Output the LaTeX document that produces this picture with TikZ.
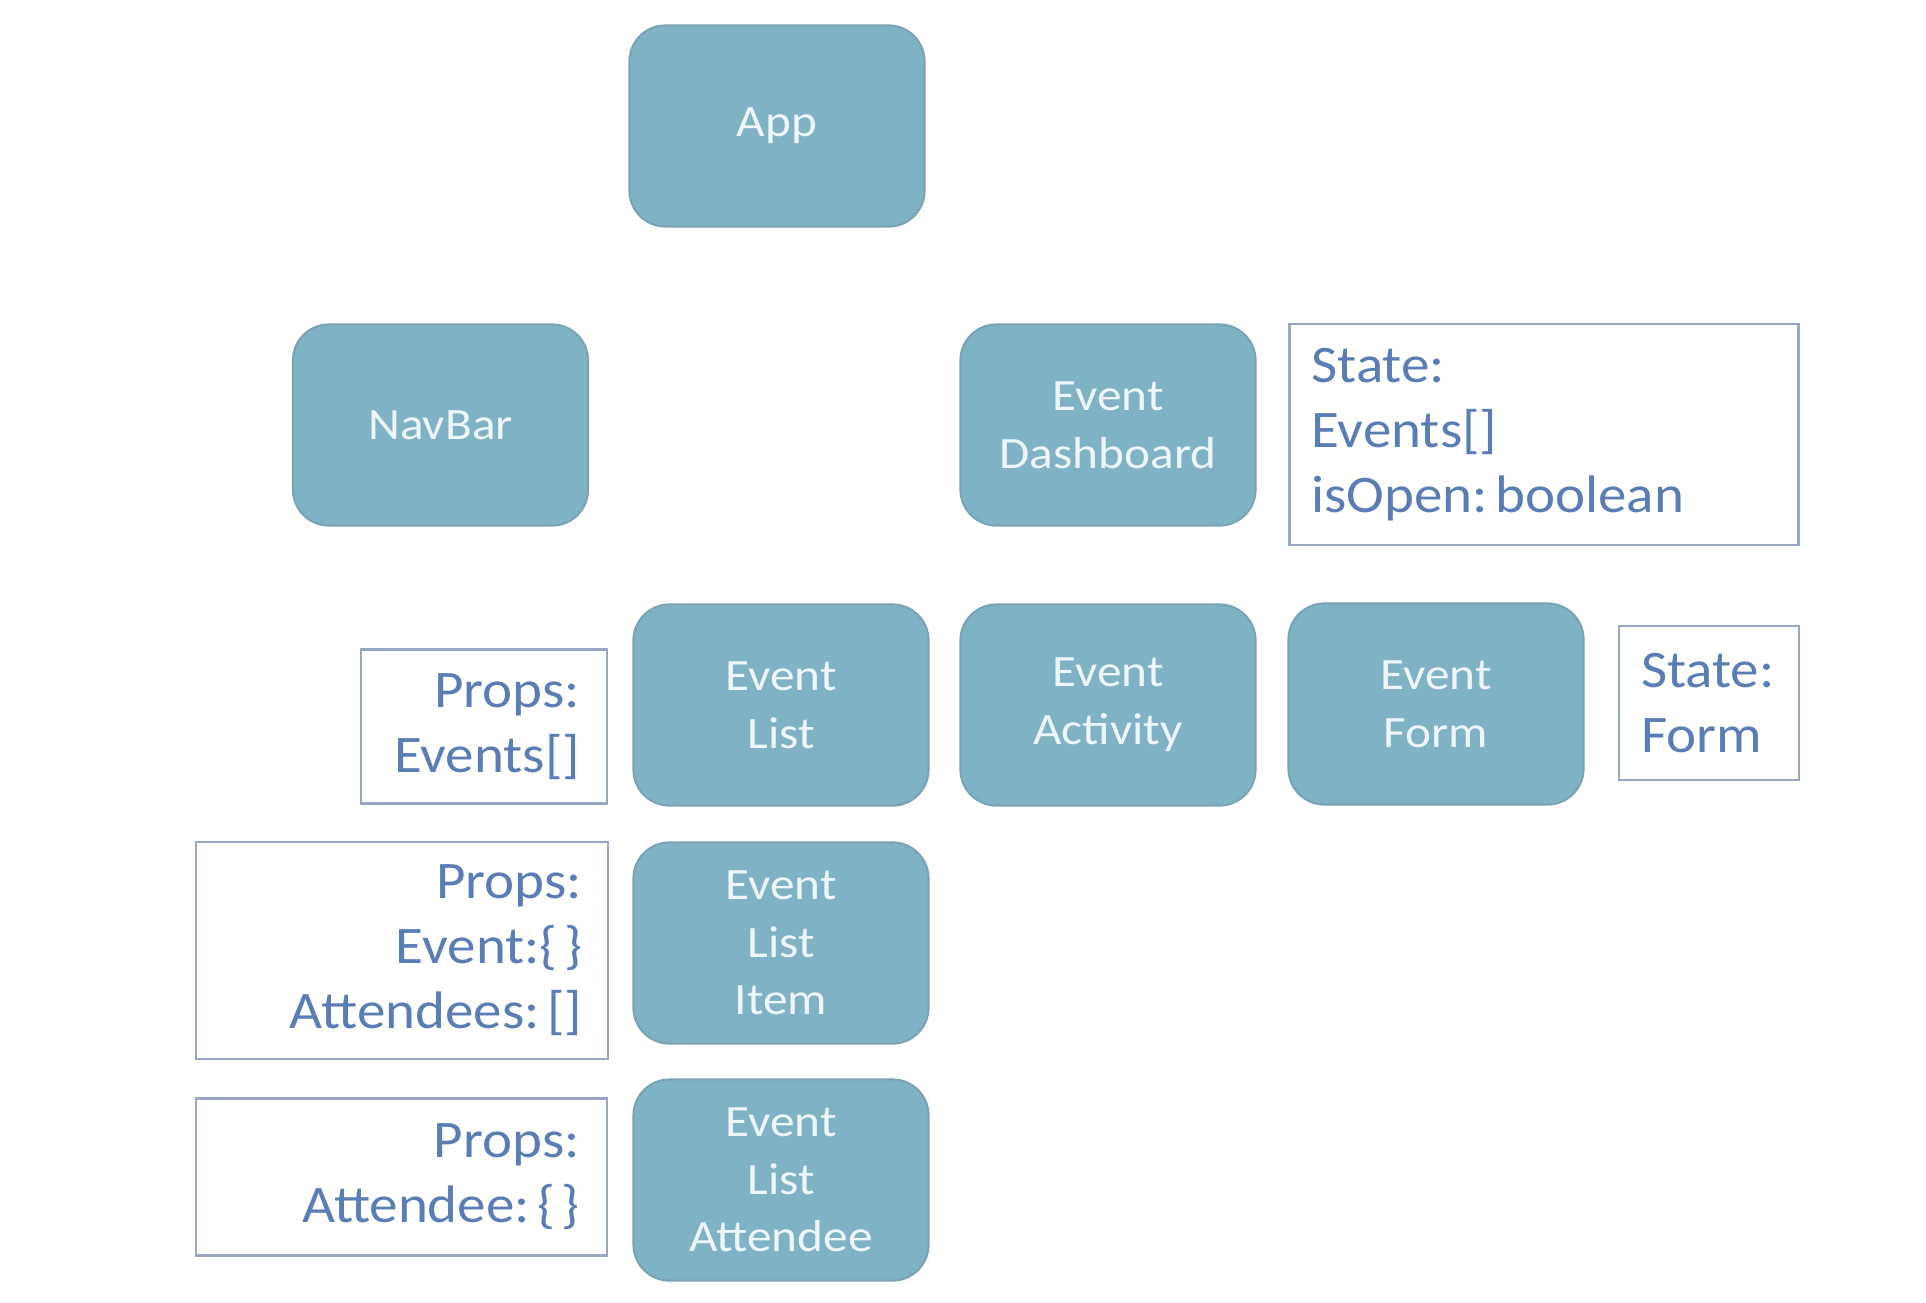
\documentclass[tikz,border=0pt]{standalone}
\usepackage{fontspec}
\newfontfamily\boxfont[FakeStretch=1.10]{Carlito}
\newfontfamily\notefont[FakeStretch=1.08]{Carlito}
\definecolor{boxfill}{HTML}{80B2C5}
\definecolor{boxedge}{HTML}{7AA3B5}
\definecolor{boxtext}{HTML}{EEF6F9}
\definecolor{notetext}{HTML}{5A7DB5}
\definecolor{noteedge}{HTML}{9AA6C6}
\newcommand{\brpair}{\{\hspace{0.12em}\}}
\newcommand{\csp}{\hspace{0.14em}}
\begin{document}
\begin{tikzpicture}[x=0.5pt,y=-0.5pt,
  comp/.style={draw=boxedge, line width=1pt, fill=boxfill, rounded corners=18pt,
    minimum width=147.6pt, minimum height=100.6pt, align=center, text=boxtext,
    font=\boxfont\fontsize{22.4pt}{28.8pt}\selectfont, inner sep=0pt},
  noteL/.style={draw=noteedge, line width=1.2pt, fill=white, text=notetext,
    font=\notefont\fontsize{26.4pt}{32.5pt}\selectfont, align=left, inner sep=0pt},
  noteR/.style={noteL, align=right}]
\useasboundingbox (0,0) rectangle (1926,1302);
\fill[white] (0,0) rectangle (1926,1302);
% components
\node[comp] (app) at (777,126) {App};
\node[comp] (navbar) at (440.5,425) {NavBar};
\node[comp] (dash) at (1108,425) {Event\\Dashboard};
\node[comp] (list) at (781,705) {Event\\List};
\node[comp] (activity) at (1108,705) {Event\\Activity};
\node[comp] (form) at (1436,704) {Event\\Form};
\node[comp] (item) at (781,943) {Event\\List\\Item};
\node[comp] (attendee) at (781,1180) {Event\\List\\Attendee};
% notes
\node[noteL, minimum width=254.6pt, minimum height=110.5pt, text width=232.6pt]
  (dashstate) at (1544,434.5) {State:\\Events[]\\isOpen:\csp boolean};
\node[noteL, minimum width=90pt, minimum height=77pt, text width=68pt]
  (formstate) at (1709,703) {State:\\Form};
\node[noteR, minimum width=123pt, minimum height=77pt, text width=96pt]
  (listprops) at (484,726.5) {Props:\\Events[]};
\node[noteR, minimum width=206pt, minimum height=108.5pt, text width=180pt]
  (itemprops) at (402,950.5) {Props:\\Event:\brpair\\Attendees:\csp[]};
\node[noteR, minimum width=205.4pt, minimum height=78.5pt, text width=178pt]
  (attprops) at (401.5,1177) {Props:\\Attendee:\csp\brpair};
\end{tikzpicture}
\end{document}
